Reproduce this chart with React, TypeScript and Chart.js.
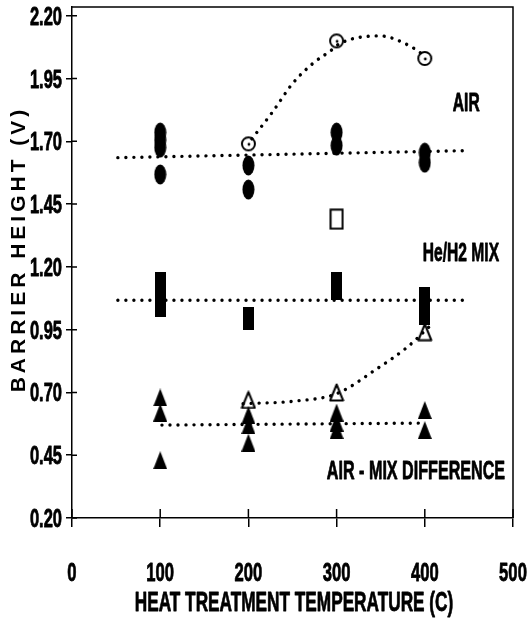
import React, { useEffect, useRef } from "react";
import { Chart, registerables } from "chart.js";

Chart.register(...registerables);

// ---- axis ticks ----
const xTickValues = [0, 100, 200, 300, 400, 500];
const yTickValues = [0.2, 0.45, 0.7, 0.95, 1.2, 1.45, 1.7, 1.95, 2.2];

// ---- AIR (filled) ----
const airTemps = [100, 100, 100, 100, 200, 200, 300, 300, 400, 400];
const airValues = [1.735, 1.705, 1.675, 1.568, 1.604, 1.508, 1.735, 1.683, 1.655, 1.615];

// ---- AIR (open circles) ----
const airOpenTemps = [200, 300, 400];
const airOpenValues = [1.69, 2.1, 2.03];

// ---- AIR trend lines ----
const airCurveTemps = [204, 228, 250, 273, 293, 304, 349, 383, 396];
const airCurveValues = [1.71, 1.82, 1.93, 2.01, 2.06, 2.09, 2.12, 2.08, 2.05];
const airFlatTemps = [52, 448];
const airFlatValues = [1.635, 1.663];

// ---- He/H2 MIX (filled) ----
const mixTemps = [100, 100, 100, 100, 200, 200, 300, 300, 400, 400, 400];
const mixValues = [1.15, 1.11, 1.07, 1.03, 1.01, 0.98, 1.15, 1.1, 1.09, 1.05, 1.0];

// ---- He/H2 MIX (open square) ----
const mixOpenTemps = [300];
const mixOpenValues = [1.39];

// ---- He/H2 MIX trend ----
const mixFlatTemps = [52, 449];
const mixFlatValues = [1.067, 1.067];

// ---- AIR - MIX DIFFERENCE (filled) ----
const diffTemps = [100, 100, 100, 200, 200, 200, 300, 300, 300, 400, 400];
const diffValues = [0.68, 0.62, 0.43, 0.61, 0.57, 0.5, 0.62, 0.58, 0.55, 0.63, 0.55];

// ---- AIR - MIX DIFFERENCE (open triangles) ----
const diffOpenTemps = [200, 300, 400];
const diffOpenValues = [0.67, 0.7, 0.94];

// ---- DIFFERENCE trend lines ----
const diffCurveTemps = [194, 251, 300, 346, 380, 406];
const diffCurveValues = [0.655, 0.665, 0.695, 0.795, 0.88, 0.965];
const diffFlatTemps = [102, 398];
const diffFlatValues = [0.57, 0.578];

// ---- text ----
const xTitle = "HEAT TREATMENT TEMPERATURE (C)";
const yTitle = "BARRIER HEIGHT (V)";
const seriesLabels = ["AIR", "He/H2 MIX", "AIR - MIX DIFFERENCE"];

const SANS = "'Liberation Sans', Arial, sans-serif";

function pts(xs: number[], ys: number[]) {
  return xs.map((x, i) => ({ x, y: ys[i] }));
}

// condensed bold text (horizontally compressed Liberation Sans Bold); y = visual centre of capitals
function condText(
  ctx: CanvasRenderingContext2D,
  text: string,
  x: number,
  y: number,
  size: number,
  sx: number,
  align: CanvasTextAlign
) {
  ctx.save();
  ctx.translate(x, y + 0.358 * size);
  ctx.scale(sx, 1);
  ctx.font = `bold ${size}px ${SANS}`;
  ctx.textAlign = align;
  ctx.textBaseline = "alphabetic";
  ctx.fillStyle = "#000";
  ctx.strokeStyle = "#000";
  ctx.lineWidth = 0.8;
  ctx.lineJoin = "round";
  ctx.fillText(text, 0, 0);
  ctx.strokeText(text, 0, 0);
  ctx.restore();
}

function marker(kind: string): HTMLCanvasElement {
  const c = document.createElement("canvas");
  const ctx = c.getContext("2d")!;
  if (kind === "ellipse") {
    c.width = 13; c.height = 21;
    ctx.fillStyle = "#000";
    ctx.beginPath();
    ctx.ellipse(6.5, 10.5, 6, 10, 0, 0, Math.PI * 2);
    ctx.fill();
  } else if (kind === "openCircle") {
    c.width = 17; c.height = 17;
    ctx.strokeStyle = "#000";
    ctx.lineWidth = 2;
    ctx.beginPath();
    ctx.arc(8.5, 8.5, 6.5, 0, Math.PI * 2);
    ctx.stroke();
    ctx.fillStyle = "#000";
    ctx.beginPath();
    ctx.arc(9, 9, 1.4, 0, Math.PI * 2);
    ctx.fill();
  } else if (kind === "rect") {
    c.width = 11; c.height = 15;
    ctx.fillStyle = "#000";
    ctx.fillRect(0, 0, 11, 15);
  } else if (kind === "openRect") {
    c.width = 15; c.height = 22;
    ctx.strokeStyle = "#000";
    ctx.lineWidth = 2;
    ctx.strokeRect(1.5, 1.5, 12, 19);
  } else if (kind === "tri") {
    c.width = 14; c.height = 18;
    ctx.fillStyle = "#000";
    ctx.beginPath();
    ctx.moveTo(7, 0);
    ctx.lineTo(14, 18);
    ctx.lineTo(0, 18);
    ctx.closePath();
    ctx.fill();
  } else if (kind === "openTri") {
    c.width = 16; c.height = 19;
    ctx.strokeStyle = "#000";
    ctx.lineWidth = 2;
    ctx.lineJoin = "round";
    ctx.beginPath();
    ctx.moveTo(8, 1.5);
    ctx.lineTo(14.5, 17.5);
    ctx.lineTo(1.5, 17.5);
    ctx.closePath();
    ctx.stroke();
  }
  return c;
}

const framePlugin = {
  id: "framePlugin",
  afterDraw(chart: any) {
    const { ctx, chartArea, scales } = chart;
    const { left, right, top, bottom } = chartArea;
    ctx.save();
    ctx.strokeStyle = "#000";
    ctx.lineWidth = 1.5;
    // top and right frame
    ctx.beginPath();
    ctx.moveTo(left, top);
    ctx.lineTo(right, top);
    ctx.lineTo(right, bottom);
    ctx.stroke();
    // inner tick stubs
    ctx.beginPath();
    xTickValues.forEach((v) => {
      const px = scales.x.getPixelForValue(v);
      ctx.moveTo(px, bottom);
      ctx.lineTo(px, bottom - 9);
    });
    yTickValues.forEach((v) => {
      const py = scales.y.getPixelForValue(v);
      ctx.moveTo(left, py);
      ctx.lineTo(left + 5, py);
    });
    ctx.stroke();

    // tick labels
    xTickValues.forEach((v) => {
      condText(ctx, String(v), scales.x.getPixelForValue(v), 572, 26, 0.64, "center");
    });
    yTickValues.forEach((v) => {
      condText(ctx, v.toFixed(2), left - 10, scales.y.getPixelForValue(v), 25, 0.66, "right");
    });

    // series labels
    const labelPos = [
      [447, 1.858, 0.6],
      [441, 1.262, 0.6],
      [390, 0.391, 0.62],
    ];
    seriesLabels.forEach((t, i) => {
      condText(ctx, t, scales.x.getPixelForValue(labelPos[i][0]), scales.y.getPixelForValue(labelPos[i][1]), 26, labelPos[i][2], "center");
    });

    // x title
    condText(ctx, xTitle, 294, 601, 28, 0.615, "center");

    // y title (rotated, letter-spaced)
    ctx.save();
    ctx.translate(25, 251);
    ctx.rotate(-Math.PI / 2);
    ctx.font = `bold 21px ${SANS}`;
    (ctx as any).letterSpacing = "4px";
    ctx.textAlign = "center";
    ctx.textBaseline = "alphabetic";
    ctx.fillStyle = "#000";
    ctx.fillText(yTitle, 2, 0);
    ctx.restore();
    ctx.restore();
  },
};

export default function App() {
  const ref = useRef<HTMLCanvasElement | null>(null);

  useEffect(() => {
    const canvas = ref.current;
    if (!canvas) return;

    const dotted = (data: any[]) => ({
      type: "line" as const,
      data,
      showLine: true,
      borderColor: "#000",
      borderWidth: 3.4,
      borderDash: [0.01, 8],
      borderCapStyle: "round" as const,
      pointRadius: 0,
      cubicInterpolationMode: "monotone" as const,
      fill: false,
    });
    const scatter = (data: any[], style: HTMLCanvasElement) => ({
      type: "scatter" as const,
      data,
      pointStyle: style,
      pointRadius: 6,
      pointHoverRadius: 6,
      backgroundColor: "#000",
      borderColor: "#000",
      showLine: false,
    });

    const chart = new Chart(canvas, {
      type: "scatter",
      data: {
        datasets: [
          dotted(pts(airFlatTemps, airFlatValues)),
          dotted(pts(airCurveTemps, airCurveValues)),
          dotted(pts(mixFlatTemps, mixFlatValues)),
          dotted(pts(diffFlatTemps, diffFlatValues)),
          dotted(pts(diffCurveTemps, diffCurveValues)),
          scatter(pts(airTemps, airValues), marker("ellipse")),
          scatter(pts(airOpenTemps, airOpenValues), marker("openCircle")),
          scatter(pts(mixTemps, mixValues), marker("rect")),
          scatter(pts(mixOpenTemps, mixOpenValues), marker("openRect")),
          scatter(pts(diffTemps, diffValues), marker("tri")),
          scatter(pts(diffOpenTemps, diffOpenValues), marker("openTri")),
        ] as any,
      },
      options: {
        animation: false,
        responsive: false,
        devicePixelRatio: 1,
        events: [],
        layout: { padding: { left: 0, top: 6, right: 17, bottom: 0 } },
        plugins: { legend: { display: false }, tooltip: { enabled: false }, title: { display: false } },
        scales: {
          x: {
            type: "linear",
            min: 0,
            max: 500,
            afterBuildTicks: (axis: any) => {
              axis.ticks = xTickValues.map((v) => ({ value: v }));
            },
            afterFit: (s: any) => {
              s.height = 103;
              s.paddingLeft = 0;
              s.paddingRight = 0;
            },
            grid: { drawOnChartArea: false, drawTicks: true, tickLength: 9, color: "#000", lineWidth: 1.5 },
            border: { display: true, color: "#000", width: 1.5 },
            ticks: { display: false, autoSkip: false },
          },
          y: {
            type: "linear",
            min: 0.2,
            max: 2.235,
            afterBuildTicks: (axis: any) => {
              axis.ticks = yTickValues.map((v) => ({ value: v }));
            },
            afterFit: (s: any) => {
              s.width = 72;
              s.paddingTop = 0;
              s.paddingBottom = 0;
            },
            grid: { drawOnChartArea: false, drawTicks: true, tickLength: 6, color: "#000", lineWidth: 1.5 },
            border: { display: true, color: "#000", width: 1.5 },
            ticks: { display: false, autoSkip: false },
          },
        },
      } as any,
      plugins: [framePlugin],
    });

    return () => chart.destroy();
  }, []);

  return (
    <div style={{ position: "absolute", left: 0, top: 0, width: 530, height: 621, background: "#fff" }}>
      <canvas ref={ref} width={530} height={621} style={{ display: "block", width: 530, height: 621 }} />
    </div>
  );
}
